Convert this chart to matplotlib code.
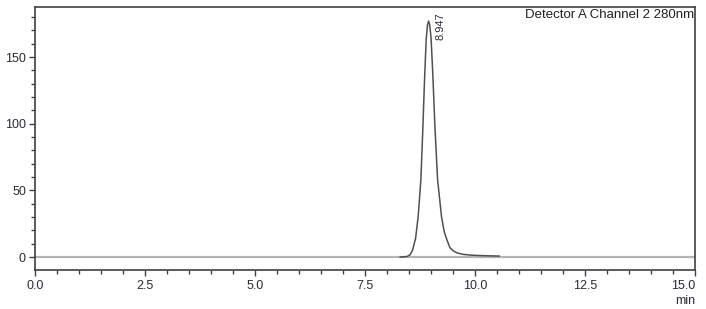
"""
plot.py
Chromatogram, Detector A Channel 2 280nm, single peak at 8.947 min.
"""

import matplotlib
matplotlib.use("Agg")
import matplotlib.pyplot as plt
from matplotlib.ticker import MultipleLocator, FuncFormatter

# trace (time in min, signal)
time_min = [8.30, 8.45, 8.52, 8.58, 8.65, 8.71, 8.77, 8.81, 8.85, 8.89,
            8.92, 8.947, 8.97, 9.00, 9.04, 9.09, 9.15, 9.24, 9.30, 9.36,
            9.43, 9.51, 9.60, 9.73, 9.90, 10.10, 10.30, 10.55]
signal = [0.0, 0.3, 1.5, 5.0, 14.0, 31.0, 58.0, 92.0, 130.0, 163.0,
          174.0, 177.0, 174.0, 165.0, 138.0, 97.0, 58.0, 30.0, 19.0, 13.0,
          7.0, 4.5, 3.0, 2.0, 1.4, 1.1, 0.9, 0.7]

peak_time = 8.947
peak_label = "8.947"
detector_label = "Detector A Channel 2 280nm"

x_range = (0.0, 15.0)
y_range = (-9.75, 187.5)

plt.rcParams["font.family"] = ["Liberation Sans", "DejaVu Sans"]

fig = plt.figure(figsize=(7.06, 3.09), dpi=100)
ax = fig.add_axes([35 / 706, 1 - 270 / 309, 660 / 706, 263 / 309])

# baseline
ax.axhline(0, color="#b4b4b4", linewidth=1.6, zorder=1)
ax.plot(time_min, signal, color="#505050", linewidth=1.1, zorder=2)

ax.set_xlim(*x_range)
ax.set_ylim(*y_range)
ax.xaxis.set_major_locator(MultipleLocator(2.5))
ax.xaxis.set_minor_locator(MultipleLocator(0.5))
ax.yaxis.set_major_locator(MultipleLocator(50))
ax.yaxis.set_minor_locator(MultipleLocator(10))

# last x label is drawn separately, flush with the right end
x_end = x_range[1]
ax.xaxis.set_major_formatter(
    FuncFormatter(lambda v, pos: "" if abs(v - x_end) < 1e-6 else f"{v:.1f}"))
ax.yaxis.set_major_formatter(plt.FormatStrFormatter("%d"))

for side in ["left", "bottom", "top", "right"]:
    ax.spines[side].set_color("#404040")
    ax.spines[side].set_linewidth(1.2)

tick_len = 4.5
x_pad = 3
ax.tick_params(which="both", direction="out", colors="#404040",
               labelcolor="#2a2a3a", labelsize=9, width=1.0)
ax.tick_params(which="major", length=tick_len, pad=2)
ax.tick_params(which="minor", length=2.8)
ax.tick_params(axis="x", which="major", pad=x_pad)

trans, va, _ = ax.get_xaxis_text1_transform(tick_len + x_pad)
ax.text(x_end, 0, f"{x_end:.1f}", transform=trans, va=va, ha="right",
        fontsize=9, color="#2a2a3a")

ax.text(1.0, -0.095, "min", transform=ax.transAxes, ha="right", va="top",
        fontsize=9, color="#2a2a3a")
ax.text(0.998, 0.993, detector_label, transform=ax.transAxes, ha="right",
        va="top", fontsize=9.5, color="#202020")
ax.text(peak_time + 0.15, 163, peak_label, rotation=90, ha="left",
        va="bottom", fontsize=8, color="#2a2a3a")

fig.savefig("out.png", dpi=100)
plt.close(fig)
